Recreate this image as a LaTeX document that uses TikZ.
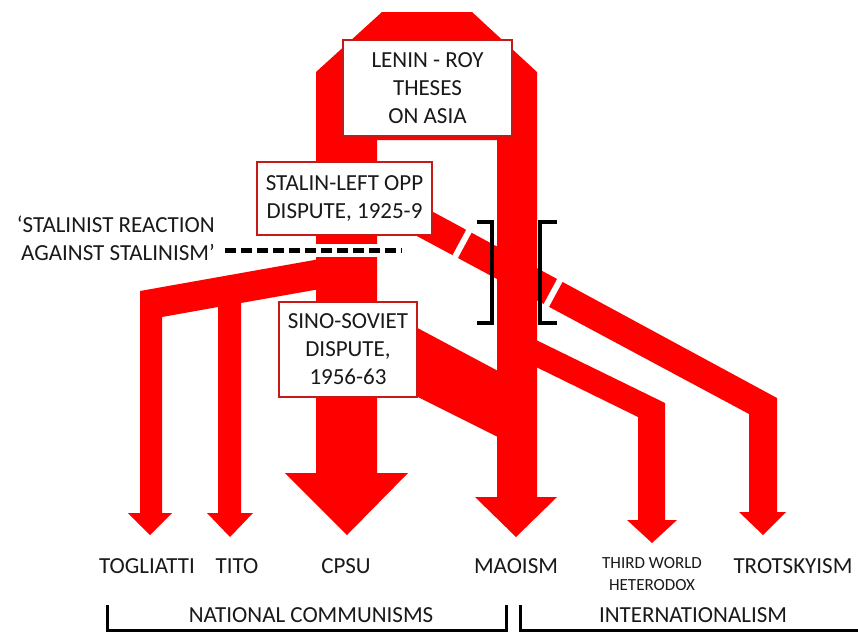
\documentclass[tikz,border=0pt]{standalone}
\usepackage{fontspec}
\setmainfont{Carlito}
\usepackage{tikz}
\usetikzlibrary{positioning}
\definecolor{flowred}{RGB}{255,0,0}
\definecolor{boxred}{RGB}{200,25,25}
\definecolor{inkgrey}{RGB}{25,25,25}

\begin{document}
\begin{tikzpicture}[x=1pt, y=-1pt,
    flow/.style={fill=flowred},
    thesis/.style={draw=boxred, line width=1.5pt, fill=white, align=center,
                   inner sep=2pt, text=inkgrey, font=\fontsize{23}{28}\selectfont},
    leaf/.style={align=center, inner sep=0pt, text=inkgrey,
                 font=\fontsize{23}{28}\selectfont},
    gap/.style={white, line width=6pt},
    brace/.style={draw=black, line width=3.5pt}]
    \useasboundingbox (0,0) rectangle (858,632);

    % trotskyist line, broken where it passes the maoist stem
    \fill[flow] (400,194) -- (777,398) -- (777,512) -- (786,512) -- (763,535)
        -- (739,512) -- (749,512) -- (749,414) -- (400,227) -- cycle;
    \draw[gap] (471,227.3) -- (453,260.7);
    \draw[gap] (562,276.3) -- (544,309.7);

    % arch over the theses, CPSU and Maoism stems
    \fill[flow] (316,72) -- (382,12) -- (472,12) -- (537,72) -- (537,497)
        -- (557,497) -- (516,537) -- (475,497) -- (497,497) -- (497,140)
        -- (377,140) -- (377,473) -- (408,473) -- (347,535) -- (285,473)
        -- (316,473) -- cycle;

    % national branches
    \fill[flow] (320,259) -- (140,291) -- (140,513) -- (128,513) -- (150,535)
        -- (172,513) -- (162,513) -- (162,317) -- (218,307) -- (218,513)
        -- (207,513) -- (230,537) -- (253,513) -- (241,513) -- (241,303)
        -- (320,289) -- cycle;
    \fill[flow] (380,308) -- (500,372) -- (500,438) -- (380,378) -- cycle;
    \fill[flow] (530,337) -- (665,403) -- (665,520) -- (677,520) -- (652,543)
        -- (627,520) -- (638,520) -- (638,417) -- (530,364) -- cycle;

    \draw[white, line width=13pt] (225,250.5) -- (402,250.5);
    \draw[black, line width=4.5pt, dash pattern=on 11pt off 5pt] (225,250.5) -- (402,250.5);

    \draw[brace] (477,222) -- (492,222) -- (492,323) -- (477,323);
    \draw[brace] (557,222) -- (540,222) -- (540,323) -- (557,323);

    \node[thesis, minimum width=169pt, minimum height=96pt] (lenin) at (427.5,88)
      {LENIN - ROY\\THESES\\ON ASIA};
    \node[thesis, minimum width=175pt, minimum height=73pt] (leftopp) at (344.5,198.5)
      {STALIN-LEFT OPP\\DISPUTE, 1925-9};
    \node[thesis, minimum width=138pt, minimum height=95pt] (sinosoviet) at (348,349.5)
      {SINO-SOVIET\\DISPUTE,\\1956-63};

    \node[leaf, align=right, anchor=east] (reaction) at (215,238)
      {‘STALINIST REACTION\\AGAINST STALINISM’};

    \node[leaf] (togliatti) at (147,566) {TOGLIATTI};
    \node[leaf] (tito)      at (237,566) {TITO};
    \node[leaf] (cpsu)      at (346,566) {CPSU};
    \node[leaf] (maoism)    at (516,566) {MAOISM};
    \node[leaf, font=\fontsize{17}{22}\selectfont] (thirdworld) at (652,574)
      {THIRD WORLD\\HETERODOX};
    \node[leaf] (trotsky)   at (793,566) {TROTSKYISM};

    \draw[brace, line width=3pt] (107,605) -- (107,630.5) -- (506,630.5) -- (506,605);
    \draw[brace, line width=3pt] (520,605) -- (520,630.5) -- (858,630.5);
    \node[leaf] (national) at (311,615) {NATIONAL COMMUNISMS};
    \node[leaf] (internat) at (693,615) {INTERNATIONALISM};
\end{tikzpicture}
\end{document}
